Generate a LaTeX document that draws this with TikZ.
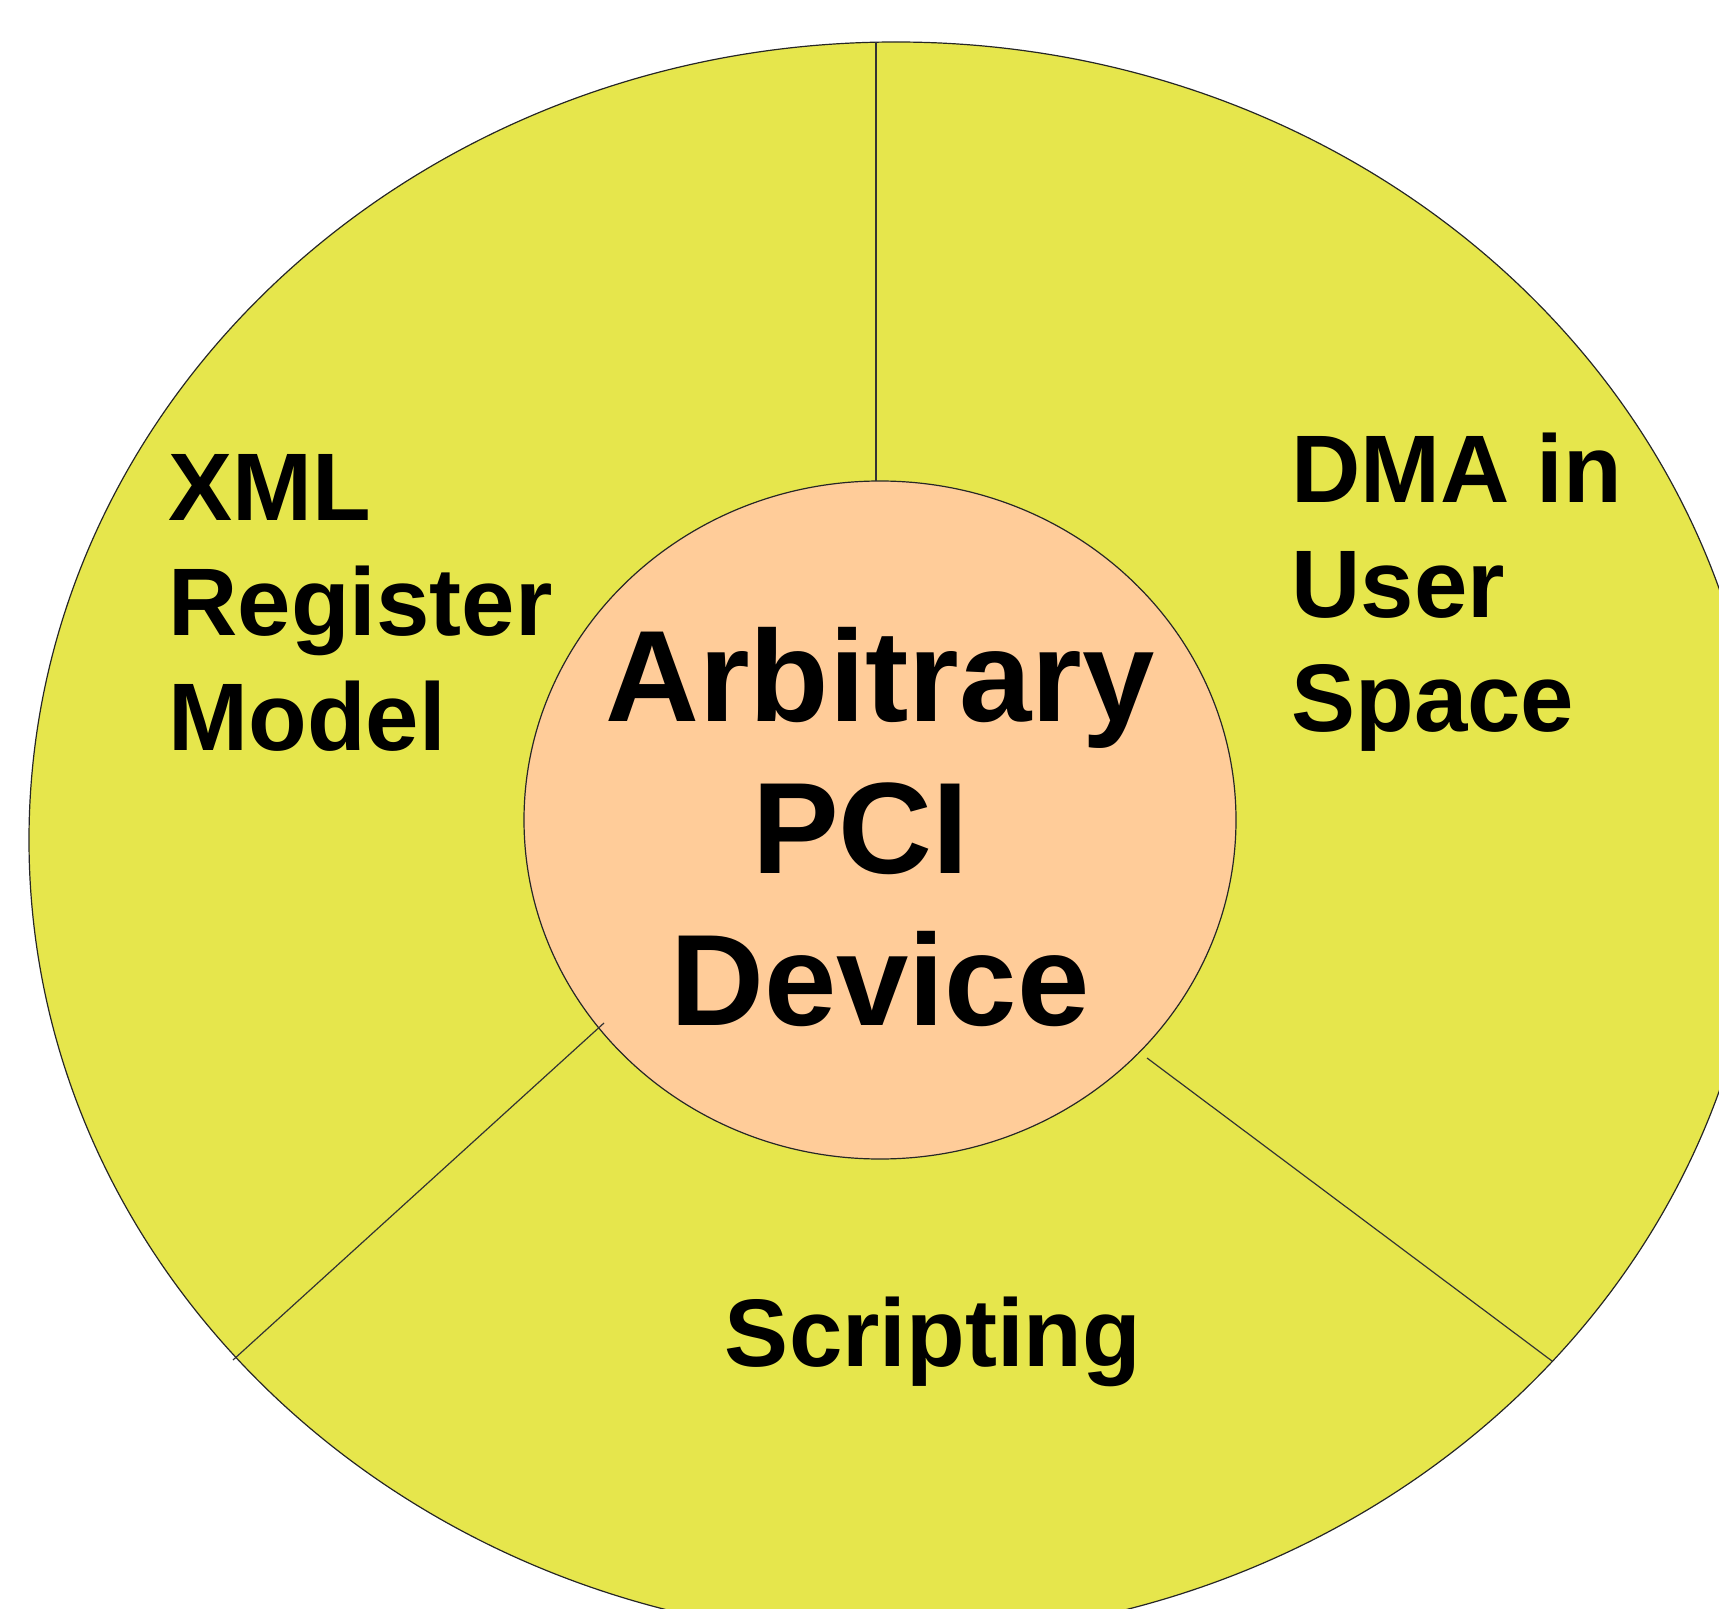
\documentclass[tikz,border=0pt]{standalone}
\usepackage{fontspec}
\setmainfont{Liberation Sans}
\usetikzlibrary{shapes.geometric}
\definecolor{ringyellow}{HTML}{E6E64C}
\definecolor{corepeach}{HTML}{FFCC99}
\tikzset{
  ring/.style={ellipse,draw=black!85,line width=0.6pt,fill=ringyellow,inner sep=0pt,outer sep=0pt},
  core/.style={ellipse,draw=black!85,line width=0.6pt,fill=corepeach,inner sep=0pt,outer sep=0pt},
  divider/.style={draw=black!80,line width=0.6pt},
  sidelabel/.style={inner sep=0pt,align=left,font=\fontsize{48}{57.5}\selectfont\bfseries},
  corelabel/.style={inner sep=0pt,align=center,font=\fontsize{65}{76}\selectfont\bfseries}
}
\begin{document}
\begin{tikzpicture}[x=0.5pt,y=-0.5pt]
\useasboundingbox (0,0) rectangle (1719,1609);
\clip (0,0) rectangle (1719,1609);
%%Rings
\node[ring,minimum width=867pt,minimum height=798pt] (outer) at (896,840) {};
\node[core,minimum width=356pt,minimum height=339pt] (inner) at (880,820) {};
%%Cuts
\coordinate (topout) at (876,42);
\coordinate (topin) at (876,481);
\coordinate (leftout) at (233,1360);
\coordinate (leftin) at (604,1023);
\coordinate (rightout) at (1552,1361);
\coordinate (rightin) at (1147,1058);
\draw[divider] (topout) -- (topin);
\draw[divider] (leftout) -- (leftin);
\draw[divider] (rightin) -- (rightout);
%%Labels (base = last line)
\node[sidelabel,anchor=base west] (xml) at (168,750) {XML\\Register\\Model};
\node[sidelabel,anchor=base west] (dma) at (1291,732) {DMA in\\User\\Space};
\node[sidelabel,anchor=base] (script) at (933,1366) {Scripting};
\node[corelabel,anchor=base] (device) at (880,1025) {Arbitrary\\PCI\mbox{\hspace{0.3em}}\\Device};
\end{tikzpicture}
\end{document}
